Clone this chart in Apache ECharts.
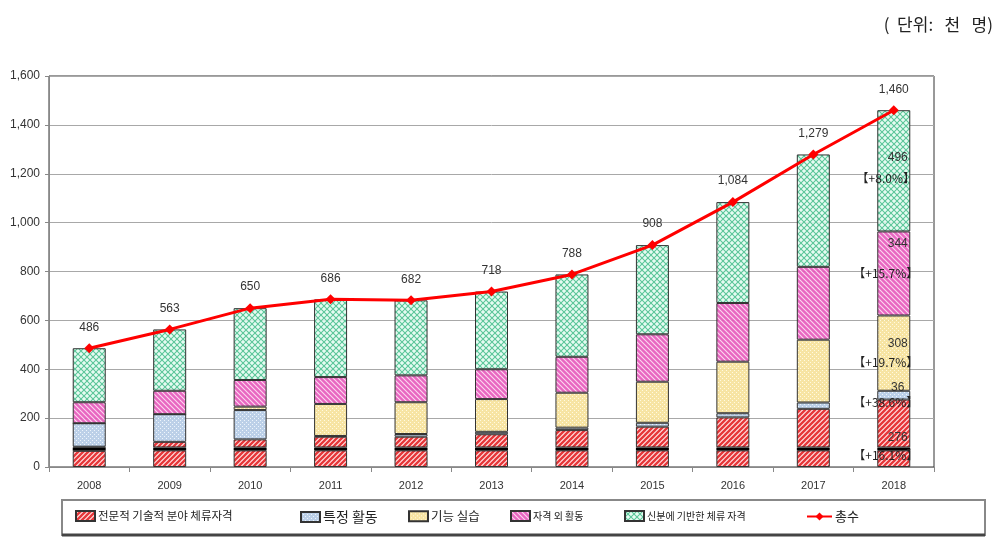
<!DOCTYPE html>
<html>
<head>
<meta charset="utf-8">
<script src="https://cdn.jsdelivr.net/npm/echarts@6/dist/echarts.min.js"></script>
<style>
html,body{margin:0;padding:0;background:#fff;}
#chart{width:1006px;height:542px;}
</style>
</head>
<body>
<div id="chart"></div>
<script>
// ---- data (thousand persons) ----
const years = ['2008','2009','2010','2011','2012','2013','2014','2015','2016','2017','2018'];
const profLow  = [66, 68, 68, 68, 68, 68, 68, 68, 68, 68, 68];
const profBand = [14, 12, 12, 12, 12, 12, 12, 12, 12, 12, 12];
const profHigh = [3, 23, 33, 44, 44, 54, 71, 85, 123, 158, 196];
const specific = [96, 113, 120, 3, 11, 10, 10, 16, 17, 26, 36];
const training = [0, 0, 14, 131, 130, 134, 143, 168, 211, 257, 308];
const nonStatus = [86, 96, 109, 110, 110, 122, 147, 194, 240, 298, 344];
const identity = [221, 251, 294, 318, 307, 318, 337, 365, 413, 460, 496];
const totals = [486, 563, 650, 686, 682, 718, 788, 908, 1084, 1279, 1460];
const yTicks = [0, 200, 400, 600, 800, 1000, 1200, 1400, 1600];
const labels2018 = ['276', '36', '308', '344', '496'];
const growth2018 = ['+16.1%', '+38.6%', '+19.7%', '+15.7%', '+8.0%'];
const seriesNames = ['전문적 기술적 분야 체류자격', '특정 활동', '기능 실습', '자격 외 활동', '신분에 기반한 체류 자격', '총수'];
const unitText = '(  단위:   천   명)';

function fmt(v){ return String(v).replace(/\B(?=(\d{3})+(?!\d))/g, ','); }

function pattern(size, bg, draw){
  const c = document.createElement('canvas');
  c.width = size; c.height = size;
  const ctx = c.getContext('2d');
  if (bg) { ctx.fillStyle = bg; ctx.fillRect(0, 0, size, size); }
  draw(ctx, size);
  return { image: c, repeat: 'repeat' };
}
function fwd(ctx, s, col, w){ // "/"
  ctx.strokeStyle = col; ctx.lineWidth = w; ctx.beginPath();
  ctx.moveTo(-1, s + 1); ctx.lineTo(s + 1, -1);
  ctx.moveTo(-1, 1); ctx.lineTo(1, -1);
  ctx.moveTo(s - 1, s + 1); ctx.lineTo(s + 1, s - 1);
  ctx.stroke();
}
function back(ctx, s, col, w){ // "\"
  ctx.strokeStyle = col; ctx.lineWidth = w; ctx.beginPath();
  ctx.moveTo(-1, -1); ctx.lineTo(s + 1, s + 1);
  ctx.moveTo(s - 1, -1); ctx.lineTo(s + 1, 1);
  ctx.moveTo(-1, s - 1); ctx.lineTo(1, s + 1);
  ctx.stroke();
}
const redPat = pattern(5, 'rgba(255,222,222,0.85)', (c, s) => fwd(c, s, '#e6373a', 2.3));
const pinkPat = pattern(5, 'rgba(230,90,188,0.92)', (c, s) => back(c, s, 'rgba(255,228,245,0.9)', 1.1));
const greenPat = pattern(6, 'rgba(226,250,240,0.85)', (c, s) => { fwd(c, s, '#5cc69a', 1.1); back(c, s, '#5cc69a', 1.1); });
const bluePat = pattern(4, 'rgba(182,204,230,0.92)', (c) => { c.fillStyle = '#eef5fc'; c.fillRect(0, 0, 1, 1); c.fillRect(2, 2, 1, 1); });
const yellowPat = pattern(4, 'rgba(246,226,155,0.92)', (c) => { c.fillStyle = '#fffae0'; c.fillRect(0, 0, 1, 1); c.fillRect(2, 2, 1, 1); });

const last = years.length - 1;
function withLabel(arr, idx, oy, lh1, lh2){
  return arr.map((v, i) => {
    if (i !== last) return v;
    return {
      value: v,
      label: {
        show: true, position: 'inside', offset: [-8, oy],
        formatter: '{v|' + labels2018[idx] + '}\n{b|【' + growth2018[idx] + '】}',
        rich: {
          v: { fontSize: 12, color: '#333', lineHeight: lh1, padding: [0, 0, 0, 24], fontFamily: 'Liberation Sans' },
          b: { fontSize: 12, color: '#222', lineHeight: lh2, fontFamily: 'Noto Sans CJK KR' }
        }
      }
    };
  });
}

const barBase = { type: 'bar', stack: 'total', barWidth: 33 };

const option = {
  animation: false,
  backgroundColor: '#fff',
  grid: { left: 49, right: 72, top: 76, bottom: 75, show: true, borderColor: '#333', borderWidth: 1, backgroundColor: 'transparent' },
  xAxis: {
    type: 'category', data: years,
    axisLine: { lineStyle: { color: '#888' } },
    axisTick: { show: true, length: 5, lineStyle: { color: '#888' } },
    axisLabel: { fontSize: 11, color: '#333', margin: 13, fontFamily: 'Liberation Sans' }
  },
  yAxis: {
    type: 'value', min: yTicks[0], max: yTicks[yTicks.length - 1], interval: 200,
    axisLine: { show: true, lineStyle: { color: '#888' } },
    axisTick: { show: true, length: 4, lineStyle: { color: '#888' } },
    axisLabel: { fontSize: 12, color: '#333', margin: 9, fontFamily: 'Liberation Sans', formatter: v => fmt(v) },
    splitLine: { lineStyle: { color: '#a8a8a8' } }
  },
  legend: [
    { data: [seriesNames[0]], left: 75, fs: 11.5 },
    { data: [seriesNames[1]], left: 300, fs: 14 },
    { data: [seriesNames[2]], left: 408, fs: 12.5 },
    { data: [seriesNames[3]], left: 510, fs: 10 },
    { data: [seriesNames[4]], left: 624, fs: 10 },
    { data: [seriesNames[5]], left: 806, fs: 13, w: 25 }
  ].map(l => ({
    data: l.data, left: l.left, top: 510, padding: 0, itemGap: 0,
    itemWidth: l.w || 19, itemHeight: 10,
    icon: l.w ? undefined : 'rect',
    selectedMode: false,
    textStyle: { fontSize: l.fs, color: '#222', fontFamily: 'Noto Sans CJK KR', padding: [0, 0, 0, -2] }
  })),
  graphic: [
    { type: 'text', right: 13, top: 16, style: { text: unitText, font: '17px "Noto Sans CJK KR"', fill: '#222' } },
    { type: 'rect', shape: { x: 62, y: 500, width: 923, height: 35 }, style: { fill: 'none', stroke: '#888', lineWidth: 2 }, z: 0 },
    { type: 'line', shape: { x1: 62, y1: 535, x2: 985, y2: 535 }, style: { stroke: '#444', lineWidth: 3 }, z: 0 }
  ],
  series: [
    Object.assign({}, barBase, { name: seriesNames[0], data: profLow, itemStyle: { color: redPat, borderColor: '#333', borderWidth: 1 } }),
    Object.assign({}, barBase, { name: 'band', data: profBand, itemStyle: { color: '#000', borderWidth: 0 } }),
    Object.assign({}, barBase, { name: seriesNames[0] + ' ', data: withLabel(profHigh, 0, 23, 17, 17), itemStyle: { color: redPat, borderColor: '#333', borderWidth: 1 } }),
    Object.assign({}, barBase, { name: seriesNames[1], data: withLabel(specific, 1, 0, 14, 14), itemStyle: { color: bluePat, borderColor: '#333', borderWidth: 1 } }),
    Object.assign({}, barBase, { name: seriesNames[2], data: withLabel(training, 2, 0, 19, 19), itemStyle: { color: yellowPat, borderColor: '#333', borderWidth: 1 } }),
    Object.assign({}, barBase, { name: seriesNames[3], data: withLabel(nonStatus, 3, -20, 40, 20), itemStyle: { color: pinkPat, borderColor: '#333', borderWidth: 1 } }),
    Object.assign({}, barBase, { name: seriesNames[4], data: withLabel(identity, 4, -3, 21, 21), itemStyle: { color: greenPat, borderColor: '#333', borderWidth: 1 } }),
    {
      name: seriesNames[5], type: 'line', data: totals, z: 5,
      symbol: 'diamond', symbolSize: 10,
      lineStyle: { color: '#ff0000', width: 3 },
      itemStyle: { color: '#ff0000' },
      label: { show: true, position: 'top', distance: 10, fontSize: 12, color: '#333', fontFamily: 'Liberation Sans', formatter: p => fmt(p.value) }
    }
  ]
};

const chart = echarts.init(document.getElementById('chart'), null, { renderer: 'canvas' });
chart.setOption(option);
</script>
</body>
</html>
